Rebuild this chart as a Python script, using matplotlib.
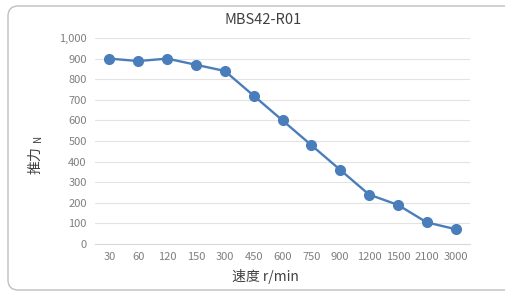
import matplotlib.pyplot as plt
from matplotlib.patches import FancyBboxPatch

plt.rcParams['font.family'] = ['Noto Sans CJK SC', 'DejaVu Sans']

speeds = ['30', '60', '120', '150', '300', '450', '600', '750', '900',
          '1200', '1500', '2100', '3000']
thrust = [900, 888, 900, 870, 840, 720, 600, 480, 360, 240, 190, 105, 72]
y_ticks = [0, 100, 200, 300, 400, 500, 600, 700, 800, 900, 1000]

W, H = 506, 291
fig = plt.figure(figsize=(W / 100, H / 100), dpi=100)

# rounded chart border, kept behind the axes
border = FancyBboxPatch((8 / W, 1 / H), (W + 20) / W, (H - 6 - 1) / H,
                        boxstyle='round,pad=0,rounding_size=0.02',
                        transform=fig.transFigure, fc='white', ec='#bfbfbf',
                        lw=1.0, mutation_aspect=W / H, zorder=-1)
fig.patches.append(border)

ax = fig.add_axes([95 / W, (H - 244) / H, 375 / W, 206 / H])
ax.patch.set_alpha(0)
x = range(len(speeds))
ax.plot(x, thrust, color='#4a7ebb', lw=1.7, marker='o', ms=7,
        markeredgecolor='#4a7ebb', zorder=3)

ax.set_xlim(-0.5, len(speeds) - 0.5)
ax.set_ylim(0, 1000)
ax.set_xticks(list(x))
ax.set_xticklabels(speeds)
ax.set_yticks(y_ticks)
ax.set_yticklabels([f'{v:,}' for v in y_ticks])
ax.tick_params(length=0, labelsize=8, colors='#7f7f7f', pad=6)
ax.grid(axis='y', color='#e3e3e3', lw=0.8)
ax.set_axisbelow(True)
for s in ['top', 'right', 'left']:
    ax.spines[s].set_visible(False)
ax.spines['bottom'].set_color('#d9d9d9')

fig.text(263 / W, 1 - 20 / H, 'MBS42-R01', ha='center', va='center',
         fontsize=10.5, color='#404040')
fig.text(36 / W, 1 - 155 / H, '推力 $\\mathregular{_N}$', rotation=90,
         ha='center', va='center', fontsize=10, color='#404040')
fig.text(265 / W, 1 - 277 / H, '速度 r/min', ha='center', va='center',
         fontsize=10, color='#404040')

fig.savefig('out.png', dpi=100)
